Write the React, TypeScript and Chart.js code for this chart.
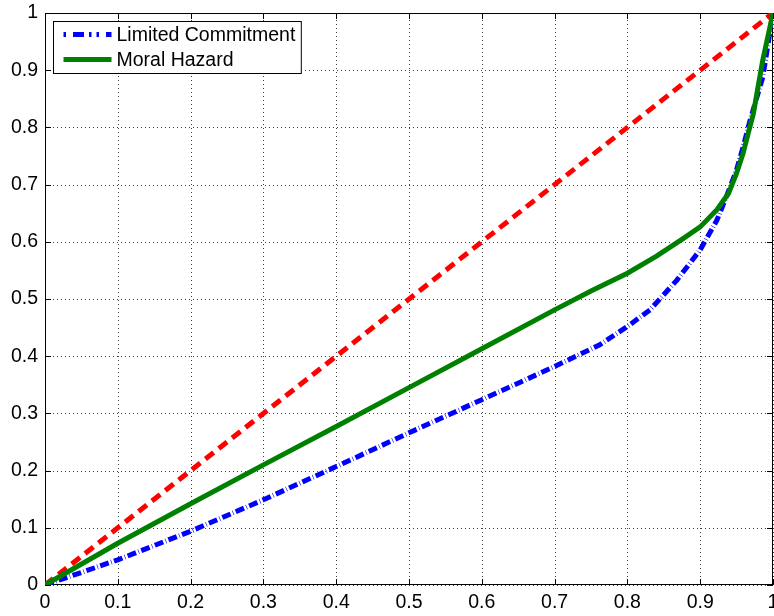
import { useEffect, useRef } from 'react';
import { Chart, registerables } from 'chart.js';

Chart.register(...registerables);

// Axis ticks (shared by both axes)
const TICKS = [0, 0.1, 0.2, 0.3, 0.4, 0.5, 0.6, 0.7, 0.8, 0.9, 1];
const TICK_LABELS = ['0', '0.1', '0.2', '0.3', '0.4', '0.5', '0.6', '0.7', '0.8', '0.9', '1'];

// Limited Commitment curve
const lcX = [0, 0.1, 0.2, 0.3, 0.4, 0.5, 0.6, 0.7, 0.762, 0.8, 0.831, 0.868, 0.9, 0.923, 0.936, 0.95, 0.959, 0.968, 0.986, 1.0];
const lcY = [0, 0.044, 0.094, 0.149, 0.207, 0.266, 0.324, 0.382, 0.42, 0.452, 0.481, 0.533, 0.586, 0.638, 0.679, 0.726, 0.766, 0.81, 0.888, 1.0];

// Moral Hazard curve
const mhX = [0, 0.1, 0.2, 0.3, 0.4, 0.5, 0.6, 0.7, 0.75, 0.8, 0.84, 0.877, 0.9, 0.923, 0.939, 0.95, 0.959, 0.966, 0.973, 0.986, 1.0];
const mhY = [0, 0.073, 0.142, 0.21, 0.277, 0.345, 0.413, 0.481, 0.514, 0.545, 0.575, 0.606, 0.626, 0.656, 0.685, 0.72, 0.755, 0.79, 0.824, 0.918, 1.0];

// 45-degree reference line
const eqX = [0, 1];
const eqY = [0, 1];

const FONT_FAMILY = '"Liberation Sans", Arial, Helvetica, sans-serif';
const FONT_SIZE = 19.5;

const toPoints = (xs: number[], ys: number[]) => xs.map((x, i) => ({ x, y: ys[i] }));

const TICK_LEN = 6;

// Dotted grid, box frame and inward tick marks
const framePlugin = {
  id: 'frame',
  beforeDatasetsDraw(chart: any) {
    const { ctx, chartArea } = chart;
    const { left, right, top, bottom } = chartArea;
    const xs = chart.scales.x;
    const ys = chart.scales.y;
    const snap = (v: number) => Math.round(v) + 0.5;
    ctx.save();
    ctx.lineWidth = 1;
    // grid
    ctx.strokeStyle = 'rgba(0,0,0,0.75)';
    ctx.setLineDash([1, 3]);
    TICKS.forEach((v) => {
      const px = snap(xs.getPixelForValue(v));
      ctx.beginPath();
      ctx.moveTo(px, bottom);
      ctx.lineTo(px, top);
      ctx.stroke();
      const py = snap(ys.getPixelForValue(v));
      ctx.beginPath();
      ctx.moveTo(left, py);
      ctx.lineTo(right, py);
      ctx.stroke();
    });
    ctx.setLineDash([]);
    // ticks
    ctx.strokeStyle = '#000';
    TICKS.forEach((v) => {
      const px = snap(xs.getPixelForValue(v));
      ctx.beginPath();
      ctx.moveTo(px, bottom);
      ctx.lineTo(px, bottom - TICK_LEN);
      ctx.moveTo(px, top);
      ctx.lineTo(px, top + TICK_LEN);
      ctx.stroke();
      const py = snap(ys.getPixelForValue(v));
      ctx.beginPath();
      ctx.moveTo(left, py);
      ctx.lineTo(left + TICK_LEN, py);
      ctx.moveTo(right, py);
      ctx.lineTo(right - TICK_LEN, py);
      ctx.stroke();
    });
    // box
    ctx.strokeRect(snap(left), snap(top), Math.round(right - left) - 1, Math.round(bottom - top) - 1);
    ctx.restore();
  },
  afterDraw(chart: any) {
    const { ctx, chartArea } = chart;
    const entries = chart.data.datasets.filter((d: any) => d.inLegend);
    entries.sort((a: any, b: any) => a.legendIndex - b.legendIndex);
    const boxX = chartArea.left + 8.5;
    const boxY = chartArea.top + 8.5;
    const rowH = 25;
    ctx.save();
    ctx.font = `${FONT_SIZE}px ${FONT_FAMILY}`;
    let maxW = 0;
    entries.forEach((d: any) => {
      maxW = Math.max(maxW, ctx.measureText(d.label).width);
    });
    const boxW = 63 + maxW + 6;
    const boxH = 52;
    ctx.fillStyle = '#fff';
    ctx.fillRect(boxX, boxY, boxW, boxH);
    ctx.strokeStyle = '#000';
    ctx.lineWidth = 1;
    ctx.strokeRect(boxX, boxY, boxW, boxH);
    entries.forEach((d: any, i: number) => {
      const cy = boxY + 13 + i * rowH;
      ctx.beginPath();
      ctx.setLineDash(d.legendDash || d.borderDash || []);
      ctx.lineWidth = d.borderWidth;
      ctx.strokeStyle = d.borderColor;
      ctx.moveTo(boxX + 10, cy);
      ctx.lineTo(boxX + 58, cy);
      ctx.stroke();
      ctx.setLineDash([]);
      ctx.fillStyle = '#000';
      ctx.textBaseline = 'middle';
      ctx.textAlign = 'left';
      ctx.fillText(d.label, boxX + 63, cy + 1);
    });
    ctx.restore();
  },
};

export default function App() {
  const canvasRef = useRef<HTMLCanvasElement | null>(null);

  useEffect(() => {
    const canvas = canvasRef.current;
    if (!canvas) return;
    const tickFont = { family: FONT_FAMILY, size: FONT_SIZE };
    const chart = new Chart(canvas, {
      type: 'scatter',
      data: {
        datasets: [
          {
            label: 'Moral Hazard',
            data: toPoints(mhX, mhY),
            showLine: true,
            borderColor: '#008000',
            borderWidth: 5,
            pointRadius: 0,
            tension: 0,
            order: 0,
            inLegend: true,
            legendIndex: 1,
          } as any,
          {
            label: 'Limited Commitment',
            data: toPoints(lcX, lcY),
            showLine: true,
            borderColor: '#0000ff',
            borderWidth: 5,
            borderDash: [9, 2.5, 0.6, 2.5],
            legendDash: [2.5, 7, 11, 5, 2.5, 5],
            pointRadius: 0,
            tension: 0,
            order: 1,
            inLegend: true,
            legendIndex: 0,
          } as any,
          {
            label: '45 degree',
            data: toPoints(eqX, eqY),
            showLine: true,
            borderColor: '#ff0000',
            borderWidth: 5,
            borderDash: [10.5, 6.5],
            pointRadius: 0,
            tension: 0,
            order: 2,
          } as any,
        ],
      },
      options: {
        animation: false,
        responsive: false,
        events: [],
        layout: { padding: { left: 0, right: 1, top: 13, bottom: 0 } },
        plugins: {
          legend: { display: false },
          tooltip: { enabled: false },
        },
        scales: {
          x: {
            type: 'linear',
            min: 0,
            max: 1,
            afterBuildTicks: (s: any) => {
              s.ticks = TICKS.map((v) => ({ value: v }));
            },
            afterFit: (s: any) => {
              s.height = 31;
              s.paddingLeft = 0;
              s.paddingRight = 0;
            },
            grid: { display: false, drawTicks: false },
            border: { display: false },
            ticks: {
              autoSkip: false,
              maxRotation: 0,
              padding: 6,
              color: '#000',
              font: tickFont,
              callback: (_v: any, i: number) => TICK_LABELS[i],
            },
          },
          y: {
            type: 'linear',
            min: 0,
            max: 1,
            afterBuildTicks: (s: any) => {
              s.ticks = TICKS.map((v) => ({ value: v }));
            },
            afterFit: (s: any) => {
              s.width = 45;
              s.paddingTop = 0;
              s.paddingBottom = 0;
            },
            grid: { display: false, drawTicks: false },
            border: { display: false },
            ticks: {
              autoSkip: false,
              padding: 7,
              color: '#000',
              font: tickFont,
              callback: (_v: any, i: number) => TICK_LABELS[i],
            },
          },
        },
      },
      plugins: [framePlugin],
    });
    return () => chart.destroy();
  }, []);

  return (
    <div style={{ position: 'absolute', left: 0, top: 0, width: 774, height: 616, background: '#fff' }}>
      <canvas ref={canvasRef} width={774} height={616} style={{ display: 'block' }} />
    </div>
  );
}
